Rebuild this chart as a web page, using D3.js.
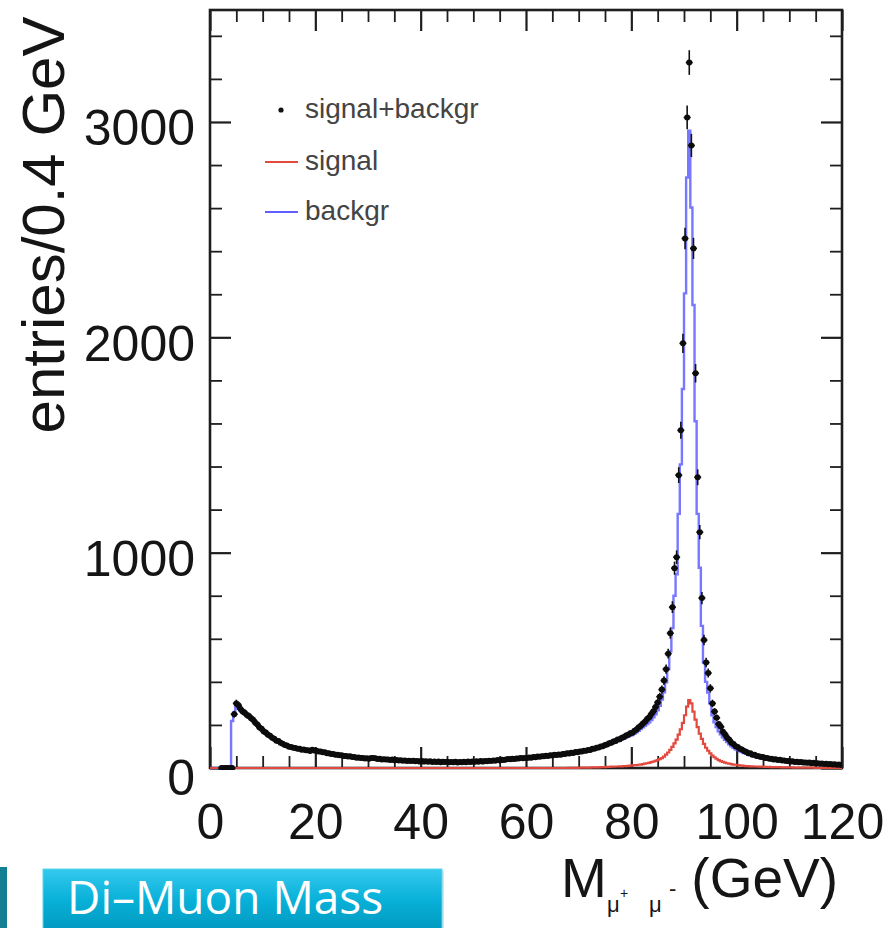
<!DOCTYPE html>
<html><head><meta charset="utf-8">
<script src="https://cdn.jsdelivr.net/npm/d3@7"></script>
<style>html,body{margin:0;padding:0;background:#fff;overflow:hidden}</style>
</head><body>
<svg id="c" width="890" height="928"></svg>
<script>
// ---- data (0.4 GeV bins from 0 to 120 GeV) ----
const binWidth = 0.4;
const xTicks = [0, 20, 40, 60, 80, 100, 120];
const yTicks = [0, 1000, 2000, 3000];
const legendLabels = ["signal+backgr", "signal", "backgr"];
const yTitle = "entries/0.4 GeV";
const buttonLabel = "Di\u2013Muon Mass";

const signalPlusBackgr = [
  null,null,null,null,null,0,0,0,0,0,
  0,250,300,291,274,262,257,246,241,231,
  224,210,202,188,182,170,165,154,150,141,
  136,127,125,117,113,107,105,99,98,94,
  93,89,89,85,86,82,82,79,85,81,
  80,77,77,73,73,69,69,65,65,62,
  62,59,59,56,56,53,54,51,51,48,
  49,46,47,44,45,43,47,47,45,42,
  43,40,41,39,40,37,39,36,37,35,
  36,34,35,33,34,32,34,31,33,30,
  32,30,31,29,31,28,30,28,30,27,
  29,28,29,27,28,27,29,26,28,27,
  29,27,30,28,30,28,31,29,32,30,
  33,31,34,33,35,34,37,35,38,37,
  40,42,41,43,42,44,44,46,45,47,
  47,49,48,51,50,53,52,55,54,57,
  56,59,58,61,60,63,62,65,65,68,
  67,71,70,74,73,77,77,80,80,84,
  84,89,89,94,95,100,101,107,109,115,
  117,123,125,132,134,141,144,151,154,161,
  164,173,179,189,196,207,215,227,236,251,
  264,283,304,331,364,406,459,531,626,747,
  928,979,1360,1568,1972,2459,3021,3276,2891,2413,
  1833,1350,1095,789,594,490,441,370,300,262,
  233,204,191,168,156,141,131,117,111,101,
  97,89,86,79,76,69,68,62,61,56,
  55,51,51,47,47,43,43,40,41,37,
  38,35,35,32,33,30,31,28,29,27,
  28,25,26,24,25,22,24,21,22,20,
  21,18,20,17,18,16,17,15,16,14
];

const signal = [
  0,0,0,0,0,0,0,0,0,0,
  0,0,0,0,0,0,0,0,0,0,
  0,0,0,0,0,0,0,0,0,0,
  0,0,0,0,0,0,0,0,0,0,
  0,0,0,0,0,0,0,0,0,0,
  0,0,0,0,0,0,0,0,0,0,
  0,0,0,0,0,0,0,0,0,0,
  0,0,0,0,0,0,0,0,0,0,
  0,0,0,0,0,0,0,0,0,0,
  0,0,0,0,0,0,0,0,0,0,
  0,0,0,0,0,0,0,0,0,0,
  0,0,0,0,0,0,0,0,0,0,
  0,0,0,0,0,0,0,0,0,0,
  0,0,0,0,0,0,0,0,0,0,
  0,0,0,0,0,0,0,0,0,0,
  0,0,0,0,0,0,0,0,0,0,
  0,0,0,0,0,0,0,0,0,0,
  1,1,1,1,1,2,2,2,2,2,
  2,3,3,3,3,4,4,4,5,5,
  6,6,7,7,8,8,9,9,10,11,
  12,13,14,15,16,18,20,22,24,27,
  30,33,37,41,46,53,62,72,84,98,
  114,132,155,180,210,245,285,315,300,262,
  225,190,160,135,112,94,80,68,58,50,
  43,37,32,28,25,22,20,18,16,15,
  13,12,11,10,9,9,8,8,7,7,
  6,6,6,5,5,5,4,4,4,4,
  4,3,3,3,3,3,3,2,2,2,
  2,2,2,2,2,2,2,1,1,1,
  1,1,1,1,1,1,1,1,1,1
];

const backgr = [
  0,0,0,0,0,0,0,0,0,0,
  218,258,282,276,268,260,252,245,238,230,
  220,210,200,190,181,172,164,156,149,142,
  136,130,124,118,113,108,104,100,97,94,
  92,89,87,85,84,82,81,80,81,80,
  78,77,75,73,71,69,67,66,64,62,
  61,59,58,56,55,54,52,51,50,49,
  48,47,46,45,44,44,45,45,44,43,
  42,41,40,39,39,38,37,37,36,35,
  35,34,34,33,33,33,32,32,31,31,
  31,30,30,30,29,29,29,29,28,28,
  28,28,28,28,28,28,28,28,28,28,
  28,28,28,29,29,29,30,30,31,31,
  32,32,33,33,34,35,35,36,37,38,
  40,41,41,42,43,43,44,45,45,46,
  47,48,49,50,51,52,53,54,55,56,
  57,58,59,60,61,62,63,64,65,66,
  67,69,70,72,73,74,76,77,79,81,
  83,85,87,90,93,95,98,102,105,109,
  112,116,119,124,127,132,136,141,145,149,
  153,159,166,173,181,189,196,204,212,223,
  235,249,268,289,318,352,398,458,542,650,
  800,900,1180,1410,1760,2204,2742,2960,2603,2150,
  1610,1180,930,660,490,400,350,300,245,212,
  190,170,157,143,131,120,110,101,94,87,
  83,78,74,70,66,61,59,55,53,50,
  48,46,44,43,41,39,38,37,36,34,
  33,33,31,30,29,28,27,27,26,26,
  25,24,23,23,22,21,21,21,20,20,
  19,18,18,17,16,16,15,15,14,13
];

// ---- drawing ----
const svg = d3.select("#c");
svg.append("rect").attr("width", 890).attr("height", 928).attr("fill", "#fff");

const L = 210, R = 842, T = 10, B = 768;
const x = d3.scaleLinear().domain([0, 120]).range([L, R]);
const y = d3.scaleLinear().domain([0, 3520]).range([B, T]);
const axFont = "'Liberation Sans', Arial, Helvetica, sans-serif";
const ink = "#1e1e1e";

const xMinor = d3.range(0, 121, 5).filter(v => v % 20 !== 0);
const yMinor = d3.range(0, 3520, 200).filter(v => v % 1000 !== 0);

const defs = svg.append("defs");
defs.append("clipPath").attr("id", "plotclip").append("rect")
  .attr("x", L).attr("y", T).attr("width", R - L).attr("height", B - T + 2);

function styleAxis(g, w) {
  g.select(".domain").remove();
  g.selectAll(".tick line").attr("stroke", ink).attr("stroke-width", w);
  g.selectAll(".tick text").attr("font-family", axFont).attr("font-size", 50).attr("fill", "#151515");
}

// frame
svg.append("rect").attr("x", L).attr("y", T).attr("width", R - L).attr("height", B - T)
  .attr("fill", "none").attr("stroke", ink).attr("stroke-width", 2.6);

// major ticks + labels
const gB = svg.append("g").attr("transform", `translate(0,${B})`)
  .call(d3.axisBottom(x).tickValues(xTicks).tickSizeInner(-21).tickSizeOuter(0).tickPadding(35).tickFormat(d3.format("d")));
styleAxis(gB, 2.2);
const gT = svg.append("g").attr("transform", `translate(0,${T})`)
  .call(d3.axisTop(x).tickValues(xTicks).tickSizeInner(-21).tickSizeOuter(0).tickFormat(""));
styleAxis(gT, 2.2);
const gL = svg.append("g").attr("transform", `translate(${L},0)`)
  .call(d3.axisLeft(y).tickValues(yTicks).tickSizeInner(-21).tickSizeOuter(0).tickPadding(15).tickFormat(d3.format("d")));
styleAxis(gL, 2.2);
gL.selectAll(".tick text").attr("dy", d => d === 0 ? "0.52em" : "0.46em");
const gR = svg.append("g").attr("transform", `translate(${R},0)`)
  .call(d3.axisRight(y).tickValues(yTicks).tickSizeInner(-21).tickSizeOuter(0).tickFormat(""));
styleAxis(gR, 2.2);

// minor ticks
[[d3.axisBottom(x).tickValues(xMinor), `translate(0,${B})`],
 [d3.axisTop(x).tickValues(xMinor), `translate(0,${T})`],
 [d3.axisLeft(y).tickValues(yMinor), `translate(${L},0)`],
 [d3.axisRight(y).tickValues(yMinor), `translate(${R},0)`]].forEach(([ax, tr]) => {
  const g = svg.append("g").attr("transform", tr)
    .call(ax.tickSizeInner(-12).tickSizeOuter(0).tickFormat(""));
  styleAxis(g, 1.8);
});

// histograms
const plot = svg.append("g").attr("clip-path", "url(#plotclip)");
function stepPath(vals) {
  const pts = vals.map((v, i) => [x(i * binWidth), y(v)]);
  pts.push([x(vals.length * binWidth), y(vals[vals.length - 1])]);
  return d3.line().curve(d3.curveStepAfter)(pts);
}
plot.append("path").attr("d", stepPath(backgr))
  .attr("fill", "none").attr("stroke", "#5f5fff").attr("stroke-width", 2.4).attr("stroke-opacity", 0.85);
plot.append("path").attr("d", stepPath(signal))
  .attr("fill", "none").attr("stroke", "#e2493f").attr("stroke-width", 2.2);

// data points with Poisson error bars
const pts = signalPlusBackgr.map((v, i) => ({ c: (i + 0.5) * binWidth, v }))
  .filter(d => d.v !== null);
plot.selectAll("line.ev").data(pts).join("line").attr("class", "ev")
  .attr("x1", d => x(d.c)).attr("x2", d => x(d.c))
  .attr("y1", d => y(d.v + Math.sqrt(d.v))).attr("y2", d => y(Math.max(0, d.v - Math.sqrt(d.v))))
  .attr("stroke", "#111").attr("stroke-width", 1.6);
plot.selectAll("line.eh").data(pts).join("line").attr("class", "eh")
  .attr("x1", d => x(d.c) - 3.5).attr("x2", d => x(d.c) + 3.5)
  .attr("y1", d => y(d.v)).attr("y2", d => y(d.v))
  .attr("stroke", "#111").attr("stroke-width", 1.6);
plot.selectAll("circle.pt").data(pts).join("circle").attr("class", "pt")
  .attr("cx", d => x(d.c)).attr("cy", d => y(d.v)).attr("r", 3).attr("fill", "#0c0c0c");

// legend
const lg = svg.append("g");
const legY = [110, 162, 212];
lg.append("circle").attr("cx", 281).attr("cy", legY[0]).attr("r", 2.6).attr("fill", "#111");
lg.append("line").attr("x1", 265).attr("x2", 298).attr("y1", legY[1]).attr("y2", legY[1])
  .attr("stroke", "#e2493f").attr("stroke-width", 2.2);
lg.append("line").attr("x1", 265).attr("x2", 298).attr("y1", legY[2]).attr("y2", legY[2])
  .attr("stroke", "#5f5fff").attr("stroke-width", 2.2);
lg.selectAll("text").data(legendLabels).join("text")
  .attr("x", 305).attr("y", (d, i) => legY[i] + 8)
  .attr("font-family", axFont).attr("font-size", 28).attr("fill", "#444")
  .text(d => d);

// y title
svg.append("text").attr("transform", "translate(64,225) rotate(-90)")
  .attr("text-anchor", "middle").attr("font-family", axFont).attr("font-size", 60)
  .attr("fill", "#151515").text(yTitle);

// x title: M_{mu+ mu-}(GeV)
const xt = svg.append("g").attr("font-family", axFont).attr("fill", "#151515");
xt.append("text").attr("x", 561).attr("y", 897).attr("font-size", 55).text("M");
xt.append("text").attr("x", 607).attr("y", 912).attr("font-size", 22).text("\u03bc");
xt.append("text").attr("x", 620).attr("y", 898).attr("font-size", 14).text("+");
xt.append("text").attr("x", 649).attr("y", 912).attr("font-size", 22).text("\u03bc");
xt.append("text").attr("x", 669).attr("y", 896).attr("font-size", 22).text("-");
xt.append("text").attr("x", 838).attr("y", 897).attr("text-anchor", "end").attr("font-size", 55).text("(GeV)");

// button
const grad = defs.append("linearGradient").attr("id", "btn").attr("x1", 0).attr("x2", 0).attr("y1", 0).attr("y2", 1);
grad.append("stop").attr("offset", "0").attr("stop-color", "#34c9ee");
grad.append("stop").attr("offset", "0.45").attr("stop-color", "#08b0d8");
grad.append("stop").attr("offset", "1").attr("stop-color", "#0092b8");
svg.append("rect").attr("x", 45).attr("y", 871).attr("width", 399).attr("height", 70)
  .attr("fill", "#000").attr("opacity", 0.12);
svg.append("rect").attr("x", 43).attr("y", 869).attr("width", 399).attr("height", 70)
  .attr("fill", "url(#btn)").attr("stroke", "#5fd3ee").attr("stroke-width", 1);
svg.append("text").attr("x", 67).attr("y", 914)
  .attr("font-family", "'Open Sans', 'Noto Sans', sans-serif").attr("font-size", 46)
  .attr("fill", "#ffffff").text(buttonLabel);
svg.append("rect").attr("x", 0).attr("y", 867).attr("width", 7).attr("height", 61).attr("fill", "#147e92");
</script>
</body></html>
